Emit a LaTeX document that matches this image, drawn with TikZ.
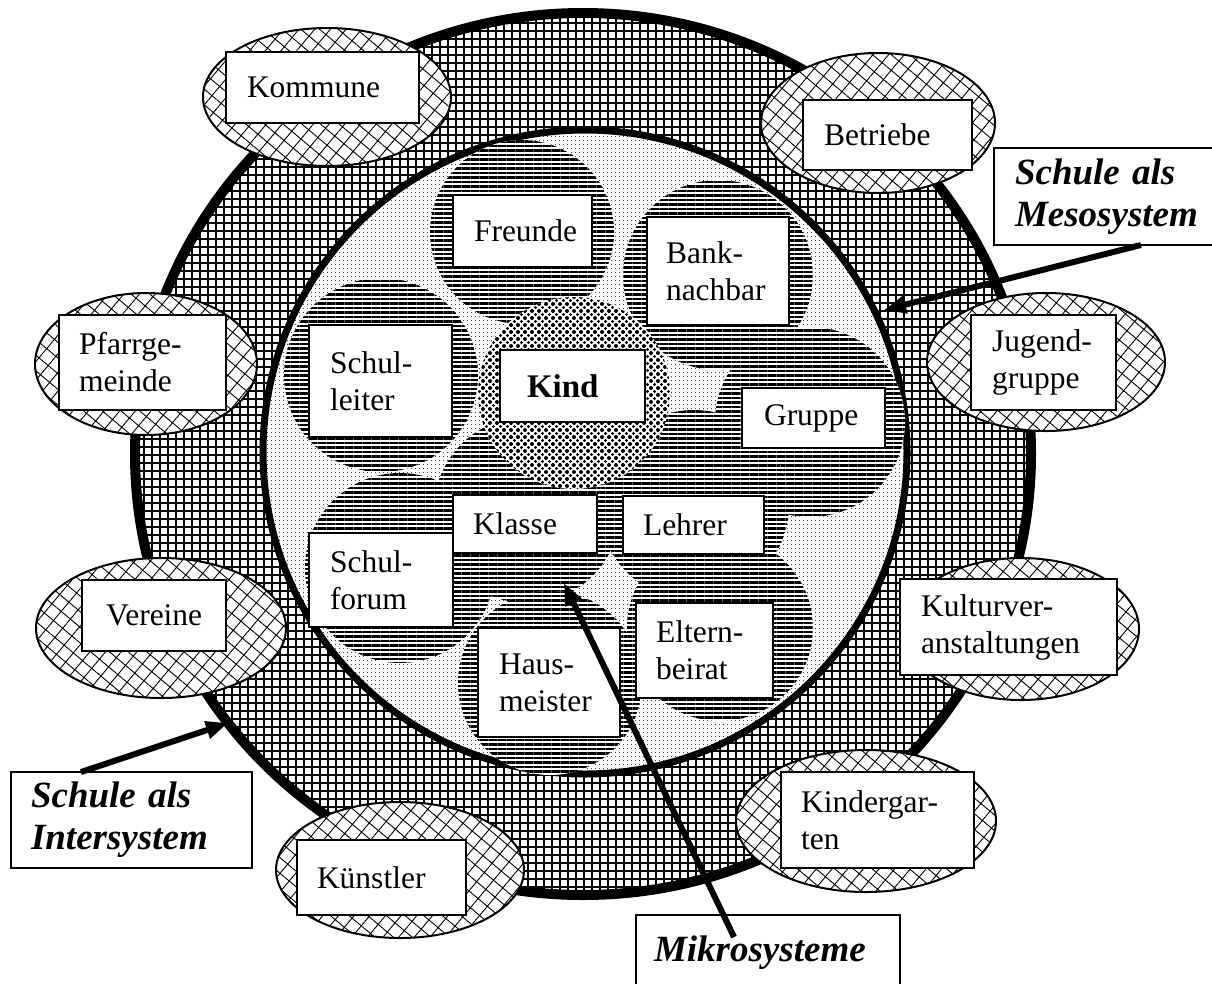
\documentclass[tikz,border=0pt]{standalone}
\usepackage{fontspec}
\setmainfont{Liberation Serif}
\usetikzlibrary{patterns.meta,arrows.meta,shapes.geometric}
\begin{document}
\begin{tikzpicture}[x=1pt,y=-1pt,
  outerring/.style={ellipse, inner sep=0pt, preaction={fill=white},
    pattern={Hatch[angle=0,distance=8pt,line width=2.2pt]}, draw=black, line width=10pt},
  mesoring/.style={circle, inner sep=0pt, preaction={fill=white},
    pattern={Dots[distance=4pt,radius=0.6pt]}, draw=black, line width=7pt},
  micro/.style={circle, inner sep=0pt, preaction={fill=white},
    pattern={Lines[angle=0,distance=4.5pt,line width=2.6pt]}},
  kindring/.style={circle, inner sep=0pt, preaction={fill=white},
    preaction={pattern={Dots[distance=7pt,radius=2pt]}},
    pattern={Dots[distance=7pt,radius=1.7pt,xshift=3.5pt,yshift=3.5pt]}},
  sat/.style={ellipse, inner sep=0pt, preaction={fill=white},
    pattern={Hatch[angle=50,distance=12pt,line width=0.9pt]}, draw=black, line width=2pt},
  lbl/.style={draw=black, line width=2pt, fill=white, inner ysep=0pt, align=left,
    font=\fontsize{31.5}{37}\selectfont},
  kindlbl/.style={lbl, font=\bfseries\fontsize{33}{38}\selectfont},
  biglbl/.style={lbl, font=\bfseries\itshape\fontsize{37}{42}\selectfont},
  pointer/.style={line width=6pt, -{Triangle[length=22pt,width=17pt]}}
]
\useasboundingbox (0,0) rectangle (1212,983);
\fill[white] (0,0) rectangle (1212,983);

% outer system (Intersystem)
\node[outerring, minimum width=896pt, minimum height=882pt] (outer) at (583,454) {};

% meso system
\node[mesoring, minimum size=644pt] (meso) at (585,452) {};

% micro systems
\node[micro, minimum size=184pt] (freundeC) at (522,232) {};
\node[micro, minimum size=190pt] (bankC) at (718,275) {};
\node[micro, minimum size=194pt] (schulleiterC) at (381,375) {};
\node[micro, minimum size=190pt] (gruppeC) at (810,422) {};
\node[micro, minimum size=186pt] (klasseC) at (527,510) {};
\node[micro, minimum size=190pt] (lehrerC) at (694,505) {};
\node[micro, minimum size=190pt] (schulforumC) at (400,568) {};
\node[micro, minimum size=184pt] (hausmeisterC) at (550,683) {};
\node[micro, minimum size=186pt] (elternC) at (720,628) {};
\node[kindring, minimum size=192pt] (kindC) at (574,393) {};

% micro labels
\node[lbl, minimum height=72pt, inner xsep=21pt, text width=97pt] (freunde) at (522.5,231) {Freunde};
\node[lbl, minimum height=108pt, inner xsep=19pt, text width=104pt] (bank) at (718,271) {Bank-\\nachbar};
\node[lbl, minimum height=112pt, inner xsep=21pt, text width=101pt] (schulleiter) at (380.5,381) {Schul-\\leiter};
\node[kindlbl, minimum height=72pt, inner xsep=27pt, text width=91pt] (kind) at (572.5,386) {Kind};
\node[lbl, minimum height=60pt, inner xsep=22pt, text width=99pt] (gruppe) at (813.5,418) {Gruppe};
\node[lbl, minimum height=58pt, inner xsep=20pt, text width=104pt] (klasse) at (525,524) {Klasse};
\node[lbl, minimum height=58pt, inner xsep=20pt, text width=101pt] (lehrer) at (693.5,525) {Lehrer};
\node[lbl, minimum height=94pt, inner xsep=21pt, text width=102pt] (schulforum) at (381,580) {Schul-\\forum};
\node[lbl, minimum height=109pt, inner xsep=21pt, text width=100pt] (hausmeister) at (549,682.5) {Haus-\\meister};
\node[lbl, minimum height=95pt, inner xsep=20pt, text width=97pt] (eltern) at (704.5,650.5) {Eltern-\\beirat};

% satellites of the intersystem
\node[sat, minimum width=248pt, minimum height=138pt] (kommuneE) at (327,97) {};
\node[lbl, minimum height=71pt, inner xsep=21pt, text width=151pt] (kommune) at (322.5,87.5) {Kommune};
\node[sat, minimum width=234pt, minimum height=140pt] (betriebeE) at (878,123) {};
\node[lbl, minimum height=70pt, inner xsep=21pt, text width=127pt] (betriebe) at (887.5,135) {Betriebe};
\node[sat, minimum width=222pt, minimum height=142pt] (pfarrE) at (146,364) {};
\node[lbl, minimum height=95pt, inner xsep=20pt, text width=127pt] (pfarr) at (142.5,362.5) {Pfarrge-\\meinde};
\node[sat, minimum width=238pt, minimum height=138pt] (jugendE) at (1046,362) {};
\node[lbl, minimum height=95pt, inner xsep=21pt, text width=103pt] (jugend) at (1043.5,362.5) {Jugend-\\gruppe};
\node[sat, minimum width=250pt, minimum height=140pt] (vereineE) at (161,628) {};
\node[lbl, minimum height=71pt, inner xsep=24pt, text width=96pt] (vereine) at (154,615.5) {Vereine};
\node[sat, minimum width=236pt, minimum height=142pt] (kulturE) at (1021,629) {};
\node[lbl, minimum height=96pt, inner xsep=21pt, text width=175pt] (kultur) at (1008.5,627) {Kulturver-\\anstaltungen};
\node[sat, minimum width=260pt, minimum height=142pt] (kinderE) at (866,821) {};
\node[lbl, minimum height=96pt, inner xsep=20pt, text width=153pt] (kinder) at (877.5,820) {Kindergar-\\ten};
\node[sat, minimum width=248pt, minimum height=136pt] (kuenstlerE) at (400,870) {};
\node[lbl, minimum height=75pt, inner xsep=20pt, text width=129pt] (kuenstler) at (381.5,877.5) {Künstler};

% level labels
\node[biglbl, minimum height=97pt, inner xsep=21pt, text width=190pt] (mesolbl) at (1110,196.5) {Schule als\\Mesosystem};
\node[biglbl, minimum height=96pt, inner xsep=20pt, text width=201pt] (interlbl) at (131.5,820) {Schule als\\Intersystem};
\node[biglbl, minimum height=75pt, inner xsep=18pt, text width=228pt] (mikrolbl) at (768,952.5) {Mikrosysteme};

% pointers
\coordinate (mesotail) at (1141,245);
\coordinate (mesotip) at (884,310);
\coordinate (intertail) at (81,772);
\coordinate (intertip) at (228,723);
\coordinate (mikrotail) at (734,937);
\coordinate (mikrotip) at (564,583);
\draw[pointer] (mesotail) -- (mesotip);
\draw[pointer] (intertail) -- (intertip);
\draw[pointer] (mikrotail) -- (mikrotip);
\end{tikzpicture}
\end{document}
